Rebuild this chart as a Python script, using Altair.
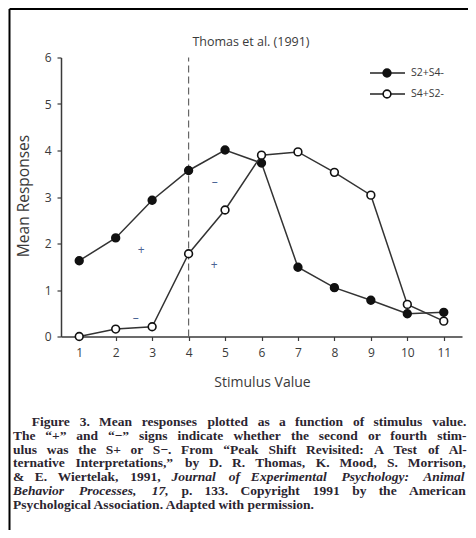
import altair as alt
import pandas as pd

# ---- data ----
stimulus = [1, 2, 3, 4, 5, 6, 7, 8, 9, 10, 11]
s2p_s4m = [1.63, 2.12, 2.93, 3.57, 4.01, 3.73, 1.49, 1.05, 0.78, 0.49, 0.52]
s4p_s2m = [0.0, 0.16, 0.21, 1.78, 2.72, 3.90, 3.97, 3.53, 3.04, 0.69, 0.33]
series_names = ["S2+S4-", "S4+S2-"]

sign_x = [2.70, 2.55, 4.72, 4.70]
sign_y = [1.87, 0.40, 3.33, 1.53]
sign_txt = ["+", "\u2013", "\u2013", "+"]

x_ticks = list(range(1, 12))
y_ticks = list(range(0, 7))
divider_x = [4]

title_text = "Thomas et al. (1991)"
x_title = "Stimulus Value"
y_title = "Mean Responses"

caption_lines = [
    [("Figure 3. Mean responses plotted as a function of stimulus value.", "normal")],
    [("The \u201c+\u201d and \u201c\u2212\u201d signs indicate whether the second or fourth stim-", "normal")],
    [("ulus was the S+ or S\u2212. From \u201cPeak Shift Revisited: A Test of Al-", "normal")],
    [("ternative Interpretations,\u201d by D. R. Thomas, K. Mood, S. Morrison,", "normal")],
    [("& E. Wiertelak, 1991,", "normal"), ("Journal of Experimental Psychology: Animal", "italic")],
    [("Behavior Processes, 17,", "italic"), ("p. 133. Copyright 1991 by the American", "normal")],
    [("Psychological Association. Adapted with permission.", "normal")],
]

# ---- layout constants ----
W, H = 401, 279
PAD = {"left": 53, "top": 49.5, "right": 6, "bottom": 193.5}
OX, OY = 61, 57.5  # plot origin on the page
INK = "#3a3a3a"
CAP = "#2b2530"
CAP_SIZE = 13.5
SANS = "Open Sans"

# approximate Times Bold / Bold Italic advance widths (per 1000 em) for justification
_bold = dict(zip("abcdefghijklmnopqrstuvwxyz",
                 [500, 556, 444, 556, 444, 333, 500, 556, 278, 333, 556, 278, 833, 556, 500, 556, 556, 444, 389, 333, 556, 500, 722, 500, 500, 444]))
_bold.update(dict(zip("ABCDEFGHIJKLMNOPQRSTUVWXYZ",
                      [722, 667, 722, 722, 667, 611, 778, 778, 389, 500, 778, 667, 944, 722, 778, 611, 778, 722, 556, 667, 722, 722, 1000, 722, 722, 667])))
_ital = dict(zip("abcdefghijklmnopqrstuvwxyz",
                 [500, 500, 444, 500, 444, 333, 500, 556, 278, 278, 500, 278, 778, 556, 500, 500, 500, 389, 389, 278, 556, 444, 667, 500, 444, 389]))
_ital.update({k: v for k, v in _bold.items() if k.isupper()})
_ital.update({"A": 667, "B": 667, "E": 667, "J": 500, "P": 611})
_common = {c: 500 for c in "0123456789"}
_common.update({".": 250, ",": 250, ":": 333, "-": 333, "\u201c": 500, "\u201d": 500,
                "+": 570, "\u2212": 570, "&": 833, "(": 333, ")": 333, " ": 250})


def text_width(s, style, size):
    tbl = _ital if style == "italic" else _bold
    k = 1.06 if style == "italic" else 1.02
    return k * sum(tbl.get(c, _common.get(c, 500)) for c in s) * size / 1000.0


df = pd.DataFrame({
    "x": stimulus * 2,
    "y": s2p_s4m + s4p_s2m,
    "series": [series_names[0]] * len(stimulus) + [series_names[1]] * len(stimulus),
})
signs = pd.DataFrame({"x": sign_x, "y": sign_y, "t": sign_txt})
one = pd.DataFrame({"a": [0]})

xs = alt.Scale(domain=[0.5, 11.5], nice=False, zero=False)
ys = alt.Scale(domain=[0, 6], nice=False, zero=True)

xaxis = alt.Axis(values=x_ticks, grid=False, title=x_title, tickSize=4, labelPadding=7,
                 labelFontSize=12, labelFont=SANS, labelColor=INK, domainColor=INK,
                 tickColor=INK, domainWidth=1.5, tickWidth=1.2,
                 titleFont=SANS, titleFontSize=14, titleFontWeight="normal", titleColor=INK,
                 titleX=201, titleY=46, titleBaseline="middle", titleAlign="center")
yaxis = alt.Axis(values=y_ticks, grid=False, title=y_title, tickSize=4, labelPadding=6,
                 labelFontSize=12, labelFont=SANS, labelColor=INK, domainColor=INK,
                 tickColor=INK, domainWidth=1.5, tickWidth=1.2,
                 titleFont=SANS, titleFontSize=15.5, titleFontWeight="normal", titleColor=INK,
                 titleX=-38, titleY=138, titleAngle=270, titleBaseline="middle", titleAlign="center")

base = alt.Chart(df)

divider = alt.Chart(pd.DataFrame({"x": divider_x, "y0": [0], "y1": [6]})).mark_rule(
    color="#666666", strokeDash=[7, 4], strokeWidth=1.2
).encode(x=alt.X("x:Q", scale=xs, axis=xaxis), y=alt.Y("y0:Q", scale=ys, axis=yaxis), y2="y1:Q")

layers = [divider]
for name, fill in zip(series_names, ["#111111", "white"]):
    sub = base.transform_filter(alt.datum.series == name)
    layers.append(sub.mark_line(color="#333333", strokeWidth=1.5).encode(
        x=alt.X("x:Q", scale=xs), y=alt.Y("y:Q", scale=ys)))
    layers.append(sub.mark_point(shape="circle", filled=True, fill=fill, stroke="#111111",
                                 strokeWidth=1.6, size=60, opacity=1).encode(
        x=alt.X("x:Q", scale=xs), y=alt.Y("y:Q", scale=ys)))

layers.append(alt.Chart(signs).mark_text(color="#4a6494", fontSize=12, font=SANS).encode(
    x=alt.X("x:Q", scale=xs), y=alt.Y("y:Q", scale=ys), text="t:N"))

# title
layers.append(alt.Chart(one).mark_text(text=title_text, font=SANS, fontSize=12.5, color=INK,
                                       align="center", baseline="middle").encode(
    x=alt.value(251 - OX), y=alt.value(42 - OY)))

# manual legend
for i, (name, fill) in enumerate(zip(series_names, ["#111111", "white"])):
    yy = 73 - OY + i * 21
    layers.append(alt.Chart(one).mark_rule(color="#222222", strokeWidth=1.6).encode(
        x=alt.value(370 - OX), x2=alt.value(405 - OX), y=alt.value(yy)))
    layers.append(alt.Chart(one).mark_point(shape="circle", filled=True, fill=fill, stroke="#111111",
                                            strokeWidth=1.6, size=60, opacity=1).encode(
        x=alt.value(387 - OX), y=alt.value(yy)))
    layers.append(alt.Chart(one).mark_text(text=name, font=SANS, fontSize=10.5, color=INK,
                                           align="left", baseline="middle").encode(
        x=alt.value(411 - OX), y=alt.value(yy)))

# caption, justified word by word (last line set as one run)
cap_top, cap_step = 421.7, 13.9
cap_left = [31.7, 13, 13, 13, 13, 13, 13]
cap_right = 467
for i, segs in enumerate(caption_lines):
    last = i == len(caption_lines) - 1
    if last:
        runs = [(txt, style) for txt, style in segs]
        gap = 0
    else:
        runs = [(w, style) for txt, style in segs for w in txt.split(" ")]
    widths = [text_width(w, s, CAP_SIZE) for w, s in runs]
    if not last:
        gap = (cap_right - cap_left[i] - sum(widths)) / max(len(runs) - 1, 1)
    xpos = cap_left[i]
    for (w, s), wd in zip(runs, widths):
        layers.append(alt.Chart(one).mark_text(text=w, font="Liberation Serif", fontSize=CAP_SIZE,
                                               fontWeight="bold", fontStyle=s, color=CAP,
                                               align="left", baseline="middle").encode(
            x=alt.value(xpos - OX), y=alt.value(cap_top + i * cap_step - OY)))
        xpos += wd + gap

# frame (top and left borders)
layers.append(alt.Chart(one).mark_rule(color="black", strokeWidth=2).encode(
    x=alt.value(9.5 - OX), x2=alt.value(480), y=alt.value(9 - OY)))
layers.append(alt.Chart(one).mark_rule(color="black", strokeWidth=2).encode(
    x=alt.value(9.5 - OX), y=alt.value(9 - OY), y2=alt.value(540)))

chart = alt.layer(*layers).properties(
    width=W, height=H, autosize=alt.AutoSizeParams(type="none"), padding=PAD,
    background="white"
).configure_view(stroke=None)

chart.save("out.html", embed_options={"renderer": "svg", "actions": False})
